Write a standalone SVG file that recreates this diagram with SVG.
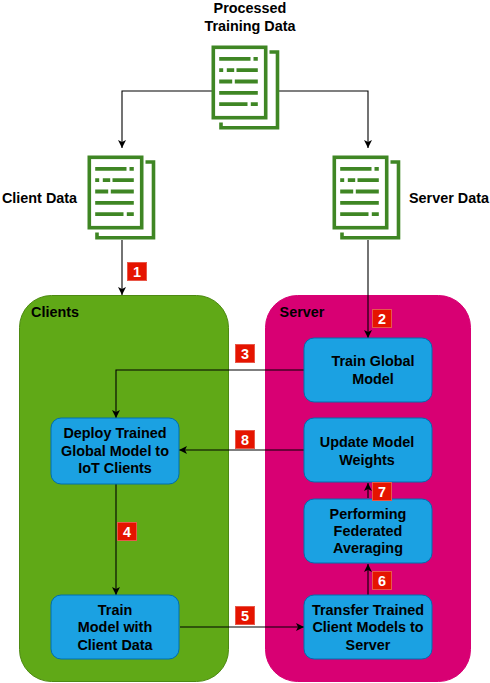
<svg xmlns="http://www.w3.org/2000/svg" width="490" height="683" viewBox="0 0 490 683">
<style>
text{font-family:"Liberation Sans",Arial,sans-serif;font-size:14.4px;font-weight:700;fill:#000;text-anchor:middle}
.c{fill:none;stroke:#000;stroke-width:1.1}
.box{fill:#1ba1e2;stroke:#006eaf;stroke-width:1}
.g{fill:none;stroke:#3f8624;stroke-width:3.6}
.l{fill:none;stroke:#3f8624;stroke-width:3.8}
.bd{fill:#e51400;stroke:#e8584a;stroke-width:1}
text.n{fill:#fff;font-size:14.4px}
</style>
<defs>
<marker id="a" markerWidth="10" markerHeight="10" refX="8" refY="4" orient="auto" markerUnits="userSpaceOnUse"><path d="M0 0L8 4L0 8L2 4Z" fill="#000"/></marker>
<g id="doc">
<path class="g" d="M9.500 77V82.300H66V6.500H58"/>
<rect class="g" x="1.800" y="1.800" width="52.400" height="70.400" fill="#fff"/>
<path class="l" d="M7.700 13.300H39M42 13.300H46.300M7.700 24.700H11.700M15.300 24.700H22.700M25 24.700H46.300M7.700 36H20.700M23.300 36H46.300M7.700 47.300H46.300M7.700 58.700H36M39.300 58.700H46.300"/>
</g>
</defs>
<g id="clients"><rect x="19.500" y="295.500" width="209" height="386" rx="32" fill="#60a917" stroke="#4d8a12"/><text x="55" y="317">Clients</text></g>
<g id="server"><rect x="265.500" y="295.500" width="205" height="386" rx="32" fill="#d80073" stroke="#d80073"/><text x="302" y="317">Server</text></g>
<g id="connectors">
<path class="c" d="M212 91H122V148" marker-end="url(#a)"/>
<path class="c" d="M279 91H368V148" marker-end="url(#a)"/>
<path class="c" d="M122 240V295" marker-end="url(#a)"/>
<path class="c" d="M368 240V338" marker-end="url(#a)"/>
<path class="c" d="M304 370H116V418" marker-end="url(#a)"/>
<path class="c" d="M304 450H179" marker-end="url(#a)"/>
<path class="c" d="M116 484V595" marker-end="url(#a)"/>
<path class="c" d="M180 627L304 627" marker-end="url(#a)"/>
<path class="c" d="M368 595V564" marker-end="url(#a)"/>
<path class="c" d="M368 498V483" marker-end="url(#a)"/>
</g>
<g id="processed"><use href="#doc" x="211.500" y="45.500"/><text x="250" y="13">Processed</text><text x="250" y="31">Training Data</text></g>
<g id="client-data"><use href="#doc" x="87.500" y="155.500"/><text x="39.500" y="203">Client Data</text></g>
<g id="server-data"><use href="#doc" x="332.500" y="155.500"/><text x="449" y="203">Server Data</text></g>
<g id="train-global"><rect class="box" x="304" y="338" width="128" height="64" rx="10"/><text x="373" y="366">Train Global</text><text x="373" y="384">Model</text></g>
<g id="update"><rect class="box" x="304" y="418" width="128" height="64" rx="10"/><text x="367" y="447">Update Model</text><text x="367" y="465">Weights</text></g>
<g id="fedavg"><rect class="box" x="304" y="499" width="128" height="64" rx="10"/><text x="368" y="519">Performing</text><text x="368" y="536">Federated</text><text x="368" y="553">Averaging</text></g>
<g id="transfer"><rect class="box" x="304" y="595" width="128" height="64" rx="10"/><text x="368" y="615">Transfer Trained</text><text x="368" y="632">Client Models to</text><text x="368" y="650">Server</text></g>
<g id="deploy"><rect class="box" x="51" y="418" width="128" height="66" rx="10"/><text x="115" y="438">Deploy Trained</text><text x="115" y="456">Global Model to</text><text x="115" y="473">IoT Clients</text></g>
<g id="train-client"><rect class="box" x="51" y="595" width="128" height="64" rx="10"/><text x="115" y="615">Train</text><text x="115" y="632">Model with</text><text x="115" y="650">Client Data</text></g>
<g id="b1"><rect class="bd" x="127.500" y="262.500" width="19" height="18"/><text class="n" x="137" y="277">1</text></g>
<g id="b2"><rect class="bd" x="372.500" y="309.500" width="19" height="18"/><text class="n" x="382" y="324">2</text></g>
<g id="b3"><rect class="bd" x="235.500" y="344.500" width="19" height="18"/><text class="n" x="245" y="359">3</text></g>
<g id="b4"><rect class="bd" x="117.500" y="522.500" width="19" height="18"/><text class="n" x="127" y="537">4</text></g>
<g id="b5"><rect class="bd" x="235.500" y="606.500" width="19" height="18"/><text class="n" x="245" y="621">5</text></g>
<g id="b6"><rect class="bd" x="372.500" y="571.500" width="19" height="18"/><text class="n" x="382" y="586">6</text></g>
<g id="b7"><rect class="bd" x="372.500" y="482.500" width="19" height="18"/><text class="n" x="382" y="497">7</text></g>
<g id="b8"><rect class="bd" x="235.500" y="430.500" width="19" height="18"/><text class="n" x="245" y="445">8</text></g>
</svg>
